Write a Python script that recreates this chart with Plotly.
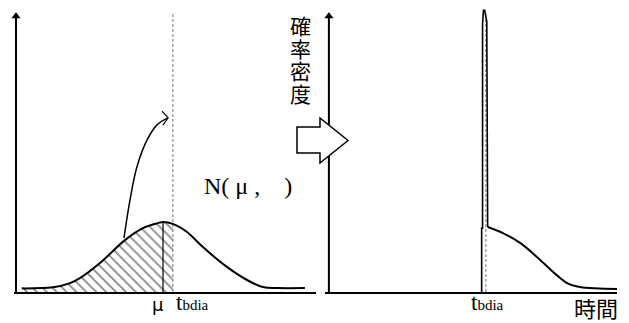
import plotly.graph_objects as go

W, H = 629, 323

# ---------------- data (time in arbitrary units, density normalised) ----------------
# Left panel: normal density N(mu, sigma^2)
left_t = [0.19, 1.23, 1.8, 2.13, 2.8, 3.63, 4.23, 4.73, 4.9, 5.23, 5.7, 6.23, 7.03, 7.7, 8.23, 8.7, 9.63]
left_d = [0.013, 0.017, 0.032, 0.050, 0.104, 0.186, 0.229, 0.247, 0.251, 0.244, 0.215, 0.161, 0.090, 0.043, 0.018, 0.014, 0.014]
mu = 4.9
mu_peak = 0.251
t_bdia = 5.23
dash_top = 1.0

# Right panel: spike at t_bdia plus remaining right tail
spike_t = [5.09, 5.09, 5.12, 5.12, 5.15, 5.19, 5.26, 5.29]
spike_d = [0.0, 0.229, 0.229, 0.96, 1.01, 1.01, 0.97, 0.233]
tail_t = [5.29, 5.8, 6.37, 6.94, 7.47, 7.94, 8.37, 9.6]
tail_d = [0.233, 0.211, 0.176, 0.125, 0.072, 0.032, 0.018, 0.011]

# curved arrow (left panel) and its open head
arc_t = [3.6, 3.8, 4.03, 4.37, 4.7, 5.07]
arc_d = [0.194, 0.330, 0.448, 0.545, 0.599, 0.624]
head_t = [4.87, 5.07, 4.90]
head_d = [0.648, 0.624, 0.598]

# labels
ylabel_chars = ["確", "率", "密", "度"]
xlabel = "時間"
mu_label = "μ"
tb_label = "t<span style='font-size:15px'>bdia</span>"
n_label = "N( μ ,&nbsp;&nbsp;&nbsp;&nbsp;)"

# big hollow arrow between panels (pixel outline)
big_arrow_px = [(297, 127), (320, 127), (320, 118), (348, 140.5), (320, 163), (320, 153), (297, 153)]

# ---------------- figure ----------------
Y0_PX, PX_PER_Y = 292, 279
ymax = 1.04
ydom = [(H - Y0_PX) / H, (H - Y0_PX + ymax * PX_PER_Y) / H]

fig = go.Figure()
BLACK = "black"

# left: hatched area up to t_bdia
hx = [t for t in left_t if t <= t_bdia + 1e-9]
hy = left_d[:len(hx)]
fig.add_trace(go.Scatter(x=hx, y=hy, mode="lines", line=dict(width=0, shape="spline"),
                         fill="tozeroy", fillcolor="white",
                         fillpattern=dict(shape="\\", fgcolor="#111", bgcolor="white", size=7, solidity=0.25),
                         xaxis="x", yaxis="y", hoverinfo="skip"))
# mu vertical
fig.add_trace(go.Scatter(x=[mu, mu], y=[0, mu_peak], mode="lines", line=dict(color=BLACK, width=1.2),
                         xaxis="x", yaxis="y"))
# dashed t_bdia
fig.add_trace(go.Scatter(x=[t_bdia, t_bdia], y=[0, dash_top], mode="lines",
                         line=dict(color="#777", width=1, dash="3px,2px"), xaxis="x", yaxis="y"))
# density curve
fig.add_trace(go.Scatter(x=left_t, y=left_d, mode="lines", line=dict(color=BLACK, width=2, shape="spline"),
                         xaxis="x", yaxis="y"))
# curved arrow
fig.add_trace(go.Scatter(x=arc_t, y=arc_d, mode="lines", line=dict(color=BLACK, width=1.5, shape="spline"),
                         xaxis="x", yaxis="y"))
fig.add_trace(go.Scatter(x=head_t, y=head_d, mode="lines", line=dict(color=BLACK, width=1.2),
                         xaxis="x", yaxis="y"))

# right panel
fig.add_trace(go.Scatter(x=[t_bdia, t_bdia], y=[0, dash_top], mode="lines",
                         line=dict(color="#777", width=1, dash="3px,2px"), xaxis="x2", yaxis="y2"))
fig.add_trace(go.Scatter(x=spike_t, y=spike_d, mode="lines", line=dict(color=BLACK, width=1.6),
                         xaxis="x2", yaxis="y2"))
fig.add_trace(go.Scatter(x=tail_t, y=tail_d, mode="lines", line=dict(color=BLACK, width=2, shape="spline"),
                         xaxis="x2", yaxis="y2"))

# y axes with arrow heads
for xa, ya in (("x", "y"), ("x2", "y2")):
    fig.add_trace(go.Scatter(x=[0, 0], y=[0, dash_top], mode="lines", line=dict(color=BLACK, width=2),
                             xaxis=xa, yaxis=ya))
    fig.add_trace(go.Scatter(x=[0], y=[dash_top - 0.012], mode="markers", cliponaxis=False,
                             marker=dict(symbol="triangle-up", size=8, color=BLACK),
                             xaxis=xa, yaxis=ya))

ax_common = dict(showline=True, linecolor=BLACK, linewidth=2, showticklabels=False, ticks="",
                 showgrid=False, zeroline=False, fixedrange=True)
yax_common = dict(visible=False, range=[0, ymax], domain=ydom, fixedrange=True)

fig.update_layout(
    width=W, height=H, margin=dict(l=0, r=0, t=0, b=0),
    paper_bgcolor="white", plot_bgcolor="white", showlegend=False,
    xaxis=dict(domain=[14 / W, 316 / W], range=[-2 / 30, 10], anchor="y", **ax_common),
    yaxis=dict(anchor="x", **yax_common),
    xaxis2=dict(domain=[325 / W, 617 / W], range=[-0.13, 9.6], anchor="y2", **ax_common),
    yaxis2=dict(anchor="x2", **yax_common),
)

# big hollow arrow
path = "M " + " L ".join(f"{x / W:.5f},{1 - y / H:.5f}" for x, y in big_arrow_px) + " Z"
fig.add_shape(type="path", path=path, xref="paper", yref="paper",
              fillcolor="white", line=dict(color=BLACK, width=1.5), layer="above")

serif = "Liberation Serif"
cjk = "Noto Sans CJK JP"
ann = []
ann.append(dict(x=mu, xshift=-5, y=1 - 304 / H, xref="x", yref="paper", text=mu_label,
                font=dict(family="DejaVu Sans", size=18, color=BLACK), showarrow=False,
                xanchor="center", yanchor="middle"))
ann.append(dict(x=t_bdia, xshift=1, y=1 - 302 / H, xref="x", yref="paper", text=tb_label,
                font=dict(family=serif, size=23, color=BLACK), showarrow=False,
                xanchor="left", yanchor="middle"))
ann.append(dict(x=t_bdia, xshift=2, y=1 - 302 / H, xref="x2", yref="paper", text=tb_label,
                font=dict(family=serif, size=23, color=BLACK), showarrow=False,
                xanchor="center", yanchor="middle"))
ann.append(dict(x=6.2, y=0.38, xref="x", yref="y", text=n_label,
                font=dict(family=serif, size=24, color=BLACK), showarrow=False,
                xanchor="left", yanchor="middle"))
for i, ch in enumerate(ylabel_chars):
    ann.append(dict(x=300 / W, y=1 - (25 + 22.6 * i) / H, xref="paper", yref="paper", text=ch,
                    font=dict(family=cjk, size=21, color=BLACK), showarrow=False,
                    xanchor="center", yanchor="middle", borderpad=0))
ann.append(dict(x=596 / W, y=1 - 307 / H, xref="paper", yref="paper", text=xlabel,
                font=dict(family=cjk, size=22, color=BLACK), showarrow=False,
                xanchor="center", yanchor="middle"))
fig.update_layout(annotations=ann)

fig.write_html("out.html", config={"displayModeBar": False},
               post_script="document.body.style.margin='0';document.body.style.overflow='hidden';")
